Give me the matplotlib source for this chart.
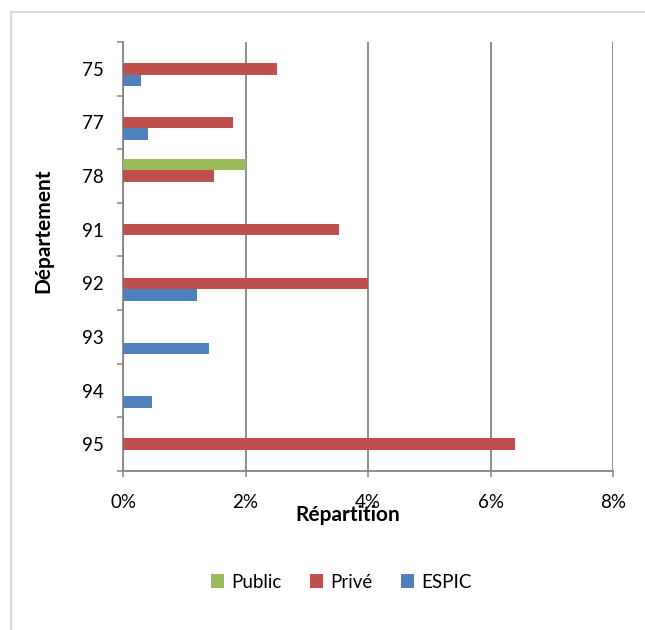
import matplotlib
matplotlib.use("Agg")
import matplotlib.pyplot as plt
from matplotlib.lines import Line2D
from matplotlib.patches import Patch
from matplotlib.ticker import PercentFormatter
import numpy as np

plt.rcParams['font.family'] = ['Lato', 'DejaVu Sans']

departements = ["75", "77", "78", "91", "92", "93", "94", "95"]
series_names = ["Public", "Privé", "ESPIC"]
public = [0, 0, 0.0200, 0, 0, 0, 0, 0]
prive = [0.0251, 0.0180, 0.0148, 0.0353, 0.0400, 0, 0, 0.0640]
espic = [0.0030, 0.0040, 0, 0, 0.0120, 0.0141, 0.0048, 0]
x_ticks = [0, 0.02, 0.04, 0.06, 0.08]

colors = {"Public": "#9BBB59", "Privé": "#C0504D", "ESPIC": "#4F81BD"}
axis_gray = "#868686"

fig = plt.figure(figsize=(6.45, 6.30), dpi=100)
ax = fig.add_axes([0.1907, 0.2524, 0.7597, 0.681])

pos = np.arange(len(departements))
h = 0.215
for vals, name, off in [(public, "Public", -h), (prive, "Privé", 0.0), (espic, "ESPIC", h)]:
    ax.barh(pos + off, vals, height=h, color=colors[name], edgecolor="none", zorder=3)

ax.set_xlim(0, 0.08)
ax.set_ylim(len(departements) - 0.5, -0.5)

# x axis
ax.set_xticks(x_ticks)
ax.xaxis.set_major_formatter(PercentFormatter(xmax=1, decimals=0))
ax.tick_params(axis="x", direction="out", length=4.5, width=1.1, color=axis_gray,
               pad=12, labelsize=13.5)
ax.grid(axis="x", color=axis_gray, linewidth=1.3, zorder=1)

# y axis: boundary ticks, labels at category centres
ax.set_yticks(np.arange(len(departements) + 1) - 0.5)
ax.set_yticklabels([])
ax.set_yticks(pos, minor=True)
ax.set_yticklabels(departements, minor=True)
ax.tick_params(axis="y", which="major", direction="out", length=4.5, width=1.1, color=axis_gray)
ax.tick_params(axis="y", which="minor", length=0, pad=14, labelsize=13.5)

for s in ["top", "right"]:
    ax.spines[s].set_visible(False)
for s in ["left", "bottom"]:
    ax.spines[s].set_color(axis_gray)
    ax.spines[s].set_linewidth(1.3)

fig.text(348 / 645, 1 - 515 / 630, "Répartition", ha="center", va="center",
         fontsize=15, fontweight="bold")
fig.text(43 / 645, 1 - 231 / 630, "Département", ha="center", va="center",
         rotation=90, fontsize=15, fontweight="bold")

handles = [Patch(facecolor=colors[n], edgecolor="none") for n in series_names]
fig.legend(handles, series_names, loc="center", bbox_to_anchor=(341 / 645, 1 - 582 / 630),
           ncol=3, frameon=False, fontsize=13.5, handlelength=0.7, handleheight=0.7,
           handletextpad=0.4, columnspacing=1.5)

# outer chart border
fig.add_artist(Line2D([11 / 645, 11 / 645], [0, 1 - 12 / 630], color="#D9D9D9", linewidth=1.5,
                      transform=fig.transFigure))
fig.add_artist(Line2D([11 / 645, 1], [1 - 12 / 630, 1 - 12 / 630], color="#D9D9D9", linewidth=1.5,
                      transform=fig.transFigure))

fig.savefig("out.png", dpi=100)
